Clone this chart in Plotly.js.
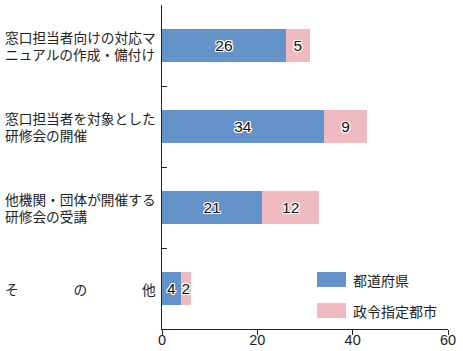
<!DOCTYPE html>
<html><head><meta charset="utf-8">
<script src="https://cdn.plot.ly/plotly-3.0.1.min.js"></script>
<style>body{margin:0;background:#fff}</style>
</head><body>
<div id="chart" style="width:463px;height:351px"></div>
<script>
const categories = [
  ["窓口担当者向けの対応マ", "ニュアルの作成・備付け"],
  ["窓口担当者を対象とした", "研修会の開催"],
  ["他機関・団体が開催する", "研修会の受講"],
  ["そ　　　　の　　　　他"]
];
const seriesNames = ["都道府県", "政令指定都市"];
const prefValues = [26, 34, 21, 4];
const cityValues = [5, 9, 12, 2];
const xTicks = [0, 20, 40, 60];

const colors = ["#6393c8", "#f0bac1"];
const ids = categories.map((c, i) => "c" + i);
const halo = "1px 0 0 #fff, -1px 0 0 #fff, 0 1px 0 #fff, 0 -1px 0 #fff, 1px 1px 0 #fff, -1px -1px 0 #fff, 1px -1px 0 #fff, -1px 1px 0 #fff";
const textFont = {family: "Liberation Sans, Arial, sans-serif", size: 15.5, color: "#111", shadow: halo};

const traces = [prefValues, cityValues].map((vals, k) => ({
  type: "bar", orientation: "h", y: ids, x: vals, name: seriesNames[k],
  marker: {color: colors[k], line: {width: 0}}, width: 0.41,
  text: vals.map(String), textposition: "inside", insidetextanchor: "middle",
  textfont: textFont, insidetextfont: textFont, constraintext: "none", showlegend: false, hoverinfo: "none"
}));

const plotW = 463 - 162 - 15, plotH = 351 - 5 - 22;
const annotations = [];
categories.forEach((lines, i) => {
  lines.forEach((ln, j) => {
    const shift = lines.length === 1 ? 0 : (j === 0 ? 8.5 : -8.5);
    annotations.push({
      xref: "paper", yref: "y", x: -(162 - 4) / plotW, y: ids[i], xanchor: "left", yanchor: "middle",
      yshift: shift, align: "left", text: ln, showarrow: false, borderpad: 0,
      font: {family: "Noto Sans CJK JP", size: 13.7, color: "#222"}
    });
  });
});
const shapes = [];
seriesNames.forEach((n, k) => {
  const top = 272 + k * 31;
  shapes.push({type: "rect", xref: "paper", yref: "paper",
    x0: (317 - 162) / plotW, x1: (346 - 162) / plotW,
    y0: (329 - top) / plotH, y1: (329 - top - 15) / plotH,
    fillcolor: colors[k], line: {width: 0}});
  annotations.push({xref: "paper", yref: "paper", x: (351 - 162) / plotW, y: (329 - top - 7.5) / plotH,
    xanchor: "left", yanchor: "middle", text: n, showarrow: false,
    font: {family: "Noto Sans CJK JP", size: 14, color: "#222"}});
});

const layout = {
  width: 463, height: 351, barmode: "stack",
  margin: {l: 162, r: 15, t: 5, b: 22},
  paper_bgcolor: "#fff", plot_bgcolor: "#fff",
  showlegend: false,
  xaxis: {range: [0, 60], tickvals: xTicks, ticktext: xTicks.map(String), ticks: "outside", ticklen: 5,
    ticklabelstandoff: -7,
    tickcolor: "#222", showline: true, linecolor: "#222", linewidth: 1, showgrid: false, zeroline: false,
    tickfont: {family: "Liberation Sans, Arial, sans-serif", size: 14.5, color: "#222"}, fixedrange: true},
  yaxis: {type: "category", categoryarray: ids, range: [3.5, -0.5], tickson: "boundaries", ticks: "inside",
    ticklen: 5, tickcolor: "#222", showline: true, linecolor: "#222", linewidth: 1, showgrid: false,
    showticklabels: false, zeroline: false, fixedrange: true},
  annotations: annotations, shapes: shapes
};
Plotly.newPlot("chart", traces, layout, {displayModeBar: false, staticPlot: true});
</script>
</body></html>
